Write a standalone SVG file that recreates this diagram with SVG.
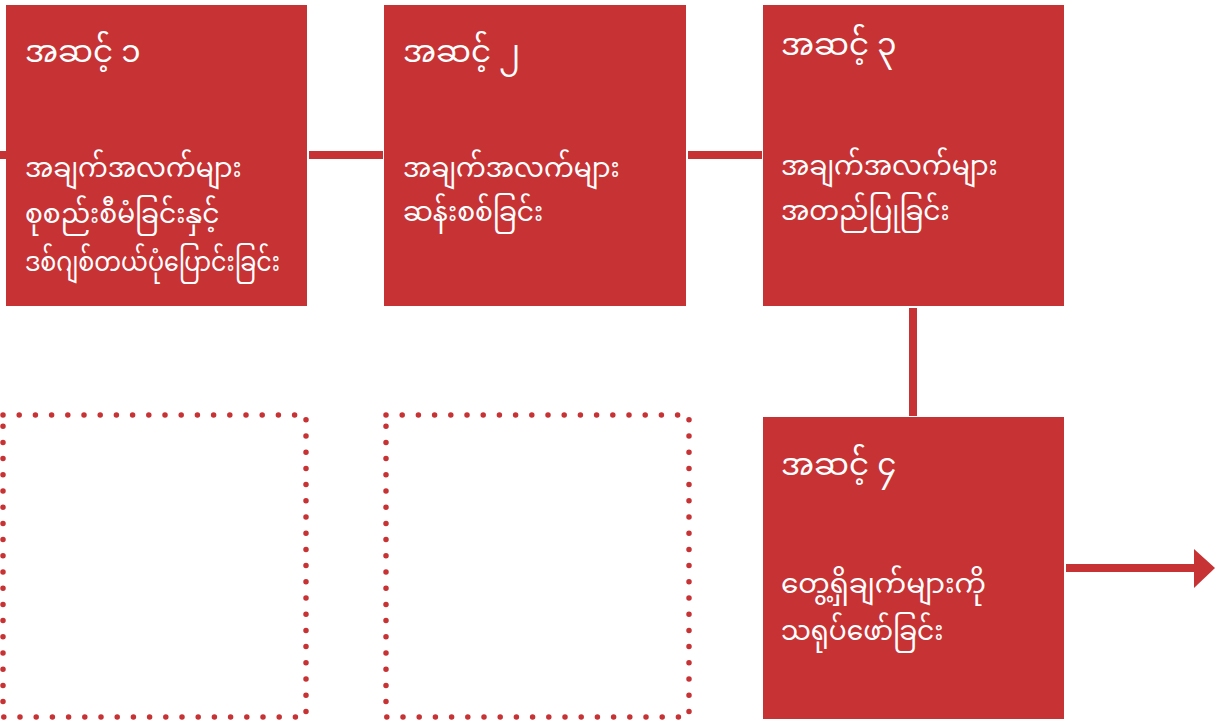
<svg xmlns="http://www.w3.org/2000/svg" width="1229" height="722" viewBox="0 0 1229 722">
<style>
.box{fill:#C73234}
.dot{fill:none;stroke:#C73234;stroke-width:5.5;stroke-linecap:round;stroke-dasharray:0 16.2}
.con{stroke:#C73234;stroke-width:8;fill:none}
text{fill:#ffffff;font-family:"Noto Sans Myanmar","Padauk","Myanmar Text","Noto Sans",sans-serif;font-size:26.5px}
text.h{font-size:31px}
</style>
<rect width="1229" height="722" fill="#ffffff"/>
<g id="connectors">
<line class="con" x1="0" y1="155" x2="6" y2="155"/>
<line class="con" x1="309" y1="155" x2="383" y2="155"/>
<line class="con" x1="688" y1="155" x2="762" y2="155"/>
<line class="con" x1="913" y1="308" x2="913" y2="416"/>
<line class="con" x1="1066" y1="568" x2="1196" y2="568"/>
<polygon points="1194,549 1215,568 1194,588" fill="#C73234"/>
</g>
<g id="step1">
<rect class="box" x="6" y="5" width="301" height="301"/>
<text class="h" x="25" y="62">အဆင့် ၁</text>
<text x="25" y="177">အချက်အလက်များ</text>
<text x="25" y="223">စုစည်းစီမံခြင်းနှင့်</text>
<text x="25" y="271" textLength="255" lengthAdjust="spacingAndGlyphs">ဒစ်ဂျစ်တယ်ပုံပြောင်းခြင်း</text>
</g>
<g id="step2">
<rect class="box" x="384" y="5" width="302" height="301"/>
<text class="h" x="403" y="62">အဆင့် ၂</text>
<text x="403" y="177">အချက်အလက်များ</text>
<text x="403" y="221">ဆန်းစစ်ခြင်း</text>
</g>
<g id="step3">
<rect class="box" x="763" y="5" width="301" height="301"/>
<text class="h" x="781" y="55">အဆင့် ၃</text>
<text x="781" y="175">အချက်အလက်များ</text>
<text x="781" y="220">အတည်ပြုခြင်း</text>
</g>
<g id="step4">
<rect class="box" x="763" y="417" width="301" height="302"/>
<text class="h" x="781" y="475">အဆင့် ၄</text>
<text x="781" y="593" textLength="205" lengthAdjust="spacingAndGlyphs">တွေ့ရှိချက်များကို</text>
<text x="781" y="640">သရုပ်ဖော်ခြင်း</text>
</g>
<g id="placeholder1">
<rect class="dot" x="3" y="415" width="303" height="302"/>
</g>
<g id="placeholder2">
<rect class="dot" x="386" y="415" width="303" height="302"/>
</g>
</svg>
